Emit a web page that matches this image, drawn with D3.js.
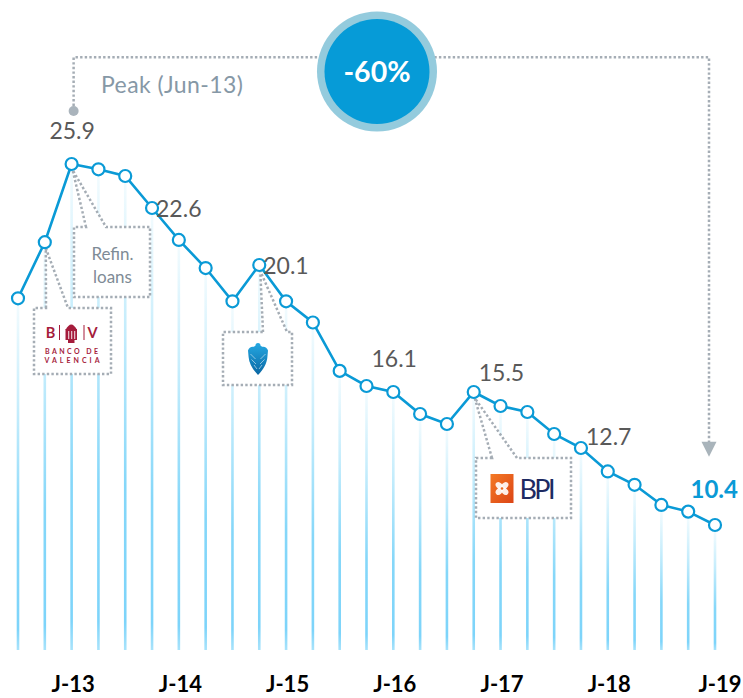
<!DOCTYPE html>
<html>
<head>
<meta charset="utf-8">
<script src="https://cdn.jsdelivr.net/npm/d3@7"></script>
<style>
  html, body { margin: 0; padding: 0; background: #fff; }
  svg { display: block; font-family: Lato, "Open Sans", sans-serif; }
</style>
</head>
<body>
<svg id="chart" width="743" height="698"></svg>
<script>
// Quarterly stock (EUR bn), Dec-12 .. Jun-19
const quarters = [
  'Dec-12', 'Mar-13', 'Jun-13', 'Sep-13', 'Dec-13', 'Mar-14', 'Jun-14', 'Sep-14', 'Dec-14',
  'Mar-15', 'Jun-15', 'Sep-15', 'Dec-15', 'Mar-16', 'Jun-16', 'Sep-16', 'Dec-16',
  'Mar-17', 'Jun-17', 'Sep-17', 'Dec-17', 'Mar-18', 'Jun-18', 'Sep-18', 'Dec-18',
  'Mar-19', 'Jun-19'
];
const values = [
  19.0, 21.1, 25.9, 25.5, 25.0, 22.6, 21.2, 20.0, 18.9,
  20.1, 18.9, 18.2, 16.6, 16.1, 15.5, 14.4, 13.9,
  15.5, 14.8, 14.5, 13.4, 12.7, 12.0, 11.6, 11.0,
  10.8, 10.4
];
const tickQuarters = ['Jun-13', 'Jun-14', 'Jun-15', 'Jun-16', 'Jun-17', 'Jun-18', 'Jun-19'];
const tickLabels = ['J-13', 'J-14', 'J-15', 'J-16', 'J-17', 'J-18', 'J-19'];
const labelledQuarters = ['Jun-13', 'Mar-14', 'Mar-15', 'Mar-16', 'Mar-17', 'Mar-18', 'Jun-19'];
const peakQuarter = 'Jun-13';
const peakText = 'Peak (Jun-13)';
const refinText = ['Refin.', 'loans'];

// The source slide is not drawn to one linear scale, so the y scale is
// piecewise between the labelled values.
const yKnots = [10.4, 12.7, 15.5, 16.1, 20.1, 22.6, 25.9];

const BASE_Y = 650;
const BLUE = '#0a9ad6';
const DOT_GREY = '#a5adb5';

const data = quarters.map((q, i) => ({ q, v: values[i] }));
const byQ = new Map(data.map(d => [d.q, d]));

const svg = d3.select('#chart');
const x = d3.scalePoint().domain(quarters).range([18, 715]);
const y = d3.scaleLinear().domain(yKnots).range([525, 448, 392, 386, 265, 208, 164]);

const defs = svg.append('defs');
const sg = defs.append('linearGradient').attr('id', 'stemGrad')
  .attr('x1', 0).attr('y1', 0).attr('x2', 0).attr('y2', 1);
[[0, '#f2fbfe'], [0.3, '#c6edfc'], [0.65, '#85d7f9'], [0.94, '#7dd4fa'], [1, '#a9e3fb']]
  .forEach(([o, c]) => sg.append('stop').attr('offset', o).attr('stop-color', c));
const eg = defs.append('linearGradient').attr('id', 'eagleGrad')
  .attr('x1', 0).attr('y1', 0).attr('x2', 0).attr('y2', 1);
eg.append('stop').attr('offset', 0).attr('stop-color', '#25a8e2');
eg.append('stop').attr('offset', 1).attr('stop-color', '#0a67a3');
const og = defs.append('linearGradient').attr('id', 'bpiGrad')
  .attr('x1', 0).attr('y1', 0).attr('x2', 1).attr('y2', 1);
og.append('stop').attr('offset', 0).attr('stop-color', '#f47a25');
og.append('stop').attr('offset', 1).attr('stop-color', '#dc4516');

// stems
svg.append('g')
  .selectAll('rect')
  .data(data)
  .join('rect')
  .attr('x', d => x(d.q) - 1.3)
  .attr('y', d => y(d.v) + 6)
  .attr('width', 2.6)
  .attr('height', d => BASE_Y - y(d.v) - 6)
  .attr('fill', 'url(#stemGrad)');

// callout boxes (dotted frame with a wedge pointing at the point)
const callouts = [
  { q: 'Jun-13', box: [74, 227, 150, 297], base: [86, 106] },
  { q: 'Mar-13', box: [34, 308, 111, 374], base: [46, 68] },
  { q: 'Mar-15', box: [223, 332, 292, 385], base: [263, 287] },
  { q: 'Mar-17', box: [476, 458, 571, 518], base: [492, 517] }
];

const cg = svg.append('g');
callouts.forEach(c => {
  const d = byQ.get(c.q);
  const tx = x(d.q) + 1, ty = y(d.v) + 6;
  const [x0, y0, x1, y1] = c.box;
  cg.append('path')
    .attr('d', `M${c.base[0]},${y0} L${tx},${ty} L${c.base[1]},${y0} L${x1},${y0} L${x1},${y1} L${x0},${y1} L${x0},${y0} Z`)
    .attr('fill', '#fff')
    .attr('stroke', DOT_GREY)
    .attr('stroke-width', 2.5)
    .attr('stroke-dasharray', '2.4 2.2');
});

// Refin. loans text
const rf = callouts[0].box;
cg.append('g').selectAll('text')
  .data(refinText)
  .join('text')
  .attr('x', (rf[0] + rf[2]) / 2 + 0.5)
  .attr('y', (d, i) => 260 + i * 22.5)
  .attr('text-anchor', 'middle')
  .attr('fill', '#7e8b96')
  .style('font-size', '17px')
  .text(d => d);

// Banco de Valencia logo
const bvc = '#a51c3c';
const bv = cg.append('g').attr('fill', bvc);
bv.append('text').attr('x', 50.5).attr('y', 338).attr('text-anchor', 'middle')
  .style('font-size', '14.5px').style('font-weight', 700).text('B');
bv.append('text').attr('x', 92.5).attr('y', 338).attr('text-anchor', 'middle')
  .style('font-size', '14.5px').style('font-weight', 700).text('V');
bv.append('rect').attr('x', 59).attr('y', 325).attr('width', 1).attr('height', 15);
bv.append('rect').attr('x', 83.5).attr('y', 325).attr('width', 1).attr('height', 15);
bv.append('path').attr('d', 'M65.5,330 Q71.3,319 77,330 Z');
bv.append('rect').attr('x', 65.5).attr('y', 329).attr('width', 11.5).attr('height', 11);
bv.append('rect').attr('x', 68).attr('y', 339.5).attr('width', 6.5).attr('height', 3.5);
[68.3, 71.3, 74.3].forEach(sx => bv.append('rect').attr('x', sx).attr('y', 331)
  .attr('width', 0.9).attr('height', 8).attr('fill', '#fff'));
bv.append('text').attr('x', 45).attr('y', 354).attr('textLength', 53)
  .style('font-size', '7px').style('font-weight', 700).text('BANCO DE');
bv.append('text').attr('x', 44.5).attr('y', 362.5).attr('textLength', 55)
  .style('font-size', '7px').style('font-weight', 700).text('VALENCIA');

// Barclays eagle
const eagle = cg.append('g').attr('transform', 'translate(248,343)');
eagle.append('path')
  .attr('d', 'M10,0 C11.6,0 12.6,1.2 12.6,2.8 L14.2,3.8 C16.5,3.2 19.3,4.6 20,7.5 L19.4,14 C19,20 15.5,26.5 10,32 C4.5,26.5 1,20 0.6,14 L0,7.5 C0.7,4.6 3.5,3.2 5.8,3.8 L7.4,2.8 C7.4,1.2 8.4,0 10,0 Z')
  .attr('fill', 'url(#eagleGrad)');
eagle.append('path')
  .attr('d', 'M2.5,11 L7.5,16 M17.5,11 L12.5,16 M3.5,16.5 L8,21 M16.5,16.5 L12,21 M6,22 L9,26 M14,22 L11,26')
  .attr('stroke', '#fff').attr('stroke-width', 0.7).attr('stroke-opacity', 0.75).attr('fill', 'none');

// BPI logo
const bpi = cg.append('g');
bpi.append('rect').attr('x', 490.5).attr('y', 474).attr('width', 23).attr('height', 29)
  .attr('fill', 'url(#bpiGrad)');
[45, 135, 225, 315].forEach(a => {
  const r = a * Math.PI / 180;
  const cx = 502 + Math.cos(r) * 4, cy = 488.5 + Math.sin(r) * 4;
  bpi.append('ellipse')
    .attr('cx', cx).attr('cy', cy)
    .attr('rx', 4).attr('ry', 3)
    .attr('transform', `rotate(${a},${cx},${cy})`)
    .attr('fill', '#fff').attr('fill-opacity', 0.9);
});
bpi.append('circle').attr('cx', 502).attr('cy', 488.5).attr('r', 1.3).attr('fill', '#ec6a22');
bpi.append('text').attr('x', 519.5).attr('y', 498.5).attr('textLength', 36)
  .attr('fill', '#1d2a62').style('font-size', '27px').text('BPI');

// line + points
svg.append('path')
  .datum(data)
  .attr('fill', 'none')
  .attr('stroke', BLUE)
  .attr('stroke-width', 2.6)
  .attr('d', d3.line().x(d => x(d.q)).y(d => y(d.v)));

svg.append('g')
  .selectAll('circle')
  .data(data)
  .join('circle')
  .attr('cx', d => x(d.q))
  .attr('cy', d => y(d.v))
  .attr('r', 6)
  .attr('fill', '#fff')
  .attr('stroke', BLUE)
  .attr('stroke-width', 2.2);

// value labels
const fmt = d3.format('.1f');
const labelPos = {
  'Jun-13': { dx: 0.5, dy: -25, anchor: 'middle' },
  'Mar-14': { dx: 4, dy: 8.5, anchor: 'start' },
  'Mar-15': { dx: 4, dy: 9, anchor: 'start' },
  'Mar-16': { dx: 5, dy: -19, anchor: 'start' },
  'Mar-17': { dx: 5, dy: -11.5, anchor: 'start' },
  'Mar-18': { dx: 5, dy: -3.5, anchor: 'start' },
  'Jun-19': { dx: -24.5, dy: -27, anchor: 'start' }
};
const lastQ = quarters[quarters.length - 1];
svg.append('g')
  .selectAll('text')
  .data(labelledQuarters.map(q => byQ.get(q)))
  .join('text')
  .attr('x', d => x(d.q) + labelPos[d.q].dx)
  .attr('y', d => y(d.v) + labelPos[d.q].dy)
  .attr('text-anchor', d => labelPos[d.q].anchor)
  .attr('fill', d => d.q === lastQ ? BLUE : '#595959')
  .style('font-size', d => d.q === lastQ ? '24px' : '23px')
  .style('font-weight', d => d.q === lastQ ? 700 : 400)
  .text(d => fmt(d.v));

// x tick labels
svg.append('g')
  .selectAll('text')
  .data(tickQuarters)
  .join('text')
  .attr('x', (q, i) => x(q) + (i === tickQuarters.length - 1 ? 5 : 1.5))
  .attr('y', 692)
  .attr('text-anchor', 'middle')
  .attr('fill', '#000')
  .style('font-size', '22px')
  .style('font-weight', 700)
  .text((q, i) => tickLabels[i]);

// peak -> latest annotation
const peak = byQ.get(peakQuarter);
const last = byQ.get(lastQ);
const topY = 57.3;
const lx = x(peak.q) + 2, rx = x(last.q) - 6;
svg.append('path')
  .attr('d', `M${lx},${y(peak.v) - 58} V${topY} H${rx} V442`)
  .attr('fill', 'none')
  .attr('stroke', DOT_GREY)
  .attr('stroke-width', 2.5)
  .attr('stroke-dasharray', '2.4 2.2');
svg.append('circle').attr('cx', lx).attr('cy', y(peak.v) - 53).attr('r', 5).attr('fill', '#aab4bc');
svg.append('path')
  .attr('d', `M${rx - 7.5},441.7 L${rx + 7.5},441.7 L${rx},456.7 Z`)
  .attr('fill', '#a9b4bb');
svg.append('text')
  .attr('x', 101).attr('y', 93)
  .attr('textLength', 142)
  .attr('fill', '#8698a6')
  .style('font-size', '23px')
  .text(peakText);

// change badge
const change = last.v / peak.v - 1;
const badge = svg.append('g').attr('transform', 'translate(377,71.5)');
badge.append('circle').attr('r', 60).attr('fill', '#94cbdd');
badge.append('circle').attr('r', 52.5).attr('fill', '#069bd7');
badge.append('text')
  .attr('y', 10.2)
  .attr('text-anchor', 'middle')
  .attr('fill', '#fff')
  .style('font-size', '28.5px')
  .style('font-weight', 700)
  .text(d3.format('.0%')(change).replace('−', '-'));
</script>
</body>
</html>
